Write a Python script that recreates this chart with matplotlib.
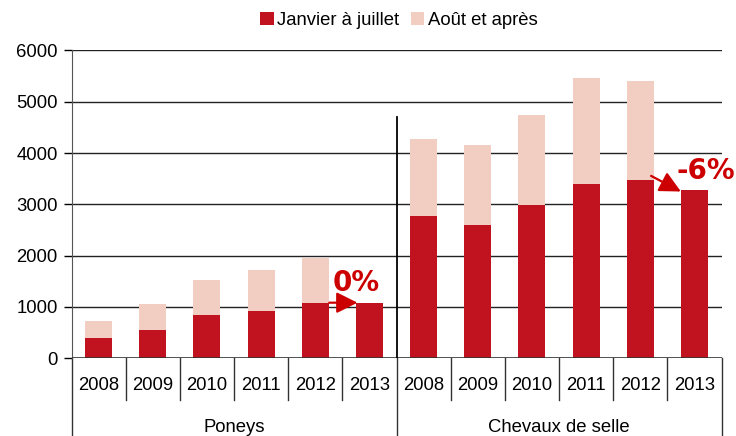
import matplotlib
matplotlib.use("Agg")
import matplotlib.pyplot as plt
from matplotlib.patches import Patch
from matplotlib.lines import Line2D

plt.rcParams['font.family'] = ['Liberation Sans', 'DejaVu Sans']

groups = ["Poneys", "Chevaux de selle"]
years = ["2008", "2009", "2010", "2011", "2012", "2013"]
jan_jul = [400, 549, 842, 920, 1082, 1082,
           2772, 2596, 2986, 3398, 3474, 3279]
totals = [725, 1057, 1528, 1720, 1947, None,
          4273, 4156, 4741, 5462, 5403, None]
aout = [(t - j) if t is not None else 0 for t, j in zip(totals, jan_jul)]
yticks = [0, 1000, 2000, 3000, 4000, 5000, 6000]
changes = ["0%", "-6%"]
series_names = ["Janvier à juillet", "Août et après"]

red = "#C1131F"
pink = "#F2CDC2"
txtred = "#CC0000"
fs = 13.3

fig = plt.figure(figsize=(7.36, 4.36), dpi=100)
ax = fig.add_axes([71.5/736, 1 - 358.2/436, 650/736, 307.8/436])

n = len(jan_jul)
xs = [i + 0.5 for i in range(n)]
ax.bar(xs, jan_jul, width=0.5, color=red, zorder=3)
ax.bar(xs, aout, width=0.5, bottom=jan_jul, color=pink, zorder=3)

ax.set_xlim(0, n)
ax.set_ylim(0, 6000)
ax.set_yticks(yticks)
ax.set_yticklabels([str(v) for v in yticks], fontsize=fs)
ax.tick_params(axis='y', length=6, width=1, pad=4, direction='out')
ax.set_xticks([])
for v in yticks[1:]:
    ax.axhline(v, color="#222222", lw=1, zorder=1)
for s in ["top", "right", "bottom"]:
    ax.spines[s].set_visible(False)
ax.spines["left"].set_color("#555555")
ax.axhline(0, color="#333333", lw=1.2, zorder=4)

# category axis
trans = ax.get_xaxis_transform()
ng = len(years)
for i in range(n + 1):
    if i % ng == 0:
        ax.add_line(Line2D([i, i], [0, -0.253], transform=trans, color="#333333",
                           lw=1, clip_on=False))
    else:
        ax.add_line(Line2D([i, i], [0, -0.136], transform=trans, color="#333333",
                           lw=1, clip_on=False))
for i in range(n):
    ax.text(i + 0.5, -0.09, years[i % ng], transform=trans, ha='center',
            va='center', fontsize=fs)
for g, name in enumerate(groups):
    ax.text(g * ng + ng / 2, -0.225, name, transform=trans, ha='center',
            va='center', fontsize=fs)
# divider inside plot
ax.plot([ng, ng], [0, 4700], color="black", lw=1.3, zorder=5)

# arrows and labels
arrow = dict(arrowstyle='-|>', mutation_scale=32, lw=1.6, color=txtred,
             shrinkA=0, shrinkB=0)
ax.annotate("", xy=(5.28, jan_jul[5]), xytext=(4.76, jan_jul[4]),
            arrowprops=arrow, zorder=6)
ax.text(5.26, 1470, changes[0], color=txtred, fontsize=20, fontweight='bold',
        family='DejaVu Sans', ha='center', va='center', zorder=6)
ax.annotate("", xy=(11.25, jan_jul[11] - 30), xytext=(10.7, jan_jul[10] + 80),
            arrowprops=arrow, zorder=6)
ax.text(11.17, 3650, changes[1], color=txtred, fontsize=20, fontweight='bold',
        family='DejaVu Sans', ha='left', va='center', zorder=6, clip_on=False)

handles = [Patch(facecolor=red), Patch(facecolor=pink)]
fig.legend(handles, series_names, loc='center', bbox_to_anchor=(0.542, 0.953),
           ncol=2, frameon=False, fontsize=fs, handlelength=0.75,
           handleheight=0.75, handletextpad=0.2, columnspacing=0.6)

fig.savefig("out.png", dpi=100)
